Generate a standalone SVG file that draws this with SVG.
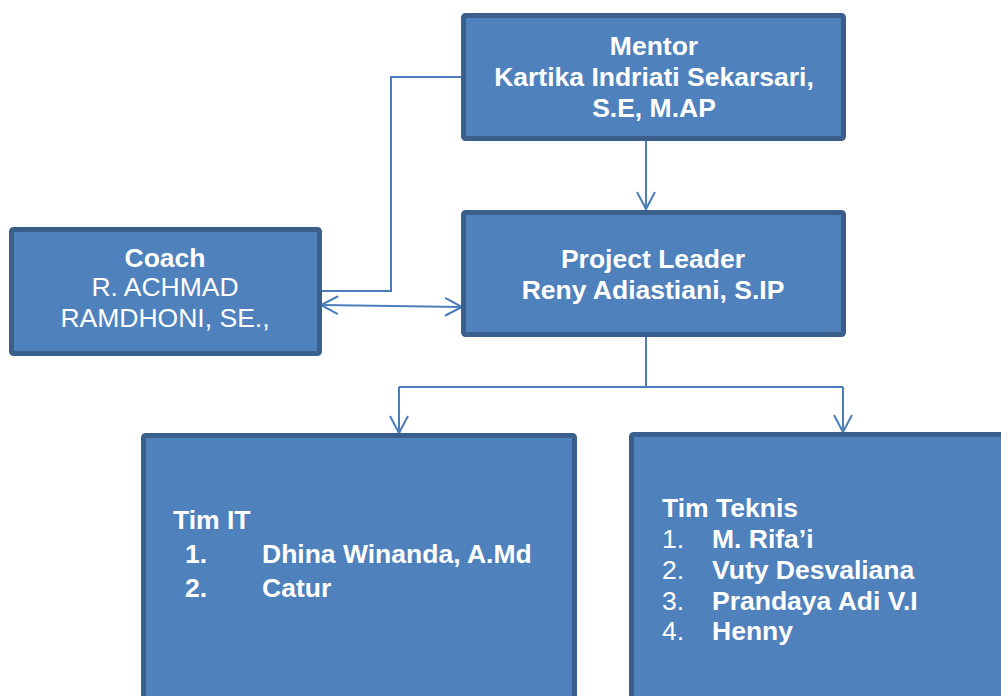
<svg xmlns="http://www.w3.org/2000/svg" width="1001" height="696" viewBox="0 0 1001 696">
<defs>
<style>
.box{fill:#4F81BD;stroke:#3A5F8D;stroke-width:5}
.t{font-family:"Liberation Sans",Arial,sans-serif;font-size:26.5px;fill:#FFFFFF}
.b{font-weight:bold}
.c{text-anchor:middle}
.conn{fill:none;stroke:#4A7EBB;stroke-width:2}
</style>
<marker id="arr" markerUnits="userSpaceOnUse" markerWidth="22" markerHeight="22" viewBox="-19 -11 22 22" refX="0" refY="0" orient="auto-start-reverse">
<path d="M-17,-9 L0,0 L-17,9" fill="none" stroke="#4A7EBB" stroke-width="2"/>
</marker>
</defs>
<rect width="1001" height="696" fill="#FFFFFF"/>
<g id="connectors">
<path class="conn" d="M646,141 V209" marker-end="url(#arr)"/>
<path class="conn" d="M461,77 H391 V291 H321"/>
<path class="conn" d="M321,305 L462,307" marker-start="url(#arr)" marker-end="url(#arr)"/>
<path class="conn" d="M646,337 V387"/>
<path class="conn" d="M399,387 H843"/>
<path class="conn" d="M399,387 V433" marker-end="url(#arr)"/>
<path class="conn" d="M843,387 V432" marker-end="url(#arr)"/>
</g>
<g id="mentor">
<rect class="box" x="463.5" y="15.5" width="380" height="123" rx="2"/>
<text class="t b c" x="654" y="55">Mentor</text>
<text class="t b c" x="654" y="86">Kartika Indriati Sekarsari,</text>
<text class="t b c" x="654" y="117">S.E, M.AP</text>
</g>
<g id="project-leader">
<rect class="box" x="463.5" y="212.5" width="380" height="122" rx="2"/>
<text class="t b c" x="653" y="268">Project Leader</text>
<text class="t b c" x="653" y="299">Reny Adiastiani, S.IP</text>
</g>
<g id="coach">
<rect class="box" x="11.5" y="229.5" width="308" height="124" rx="2"/>
<text class="t b c" x="165" y="267">Coach</text>
<text class="t c" x="165" y="296">R. ACHMAD</text>
<text class="t c" x="165" y="327">RAMDHONI, SE.,</text>
</g>
<g id="tim-it">
<rect class="box" x="143.5" y="435.5" width="431" height="300" rx="2"/>
<text class="t b" x="173" y="529">Tim IT</text>
<text class="t b" x="185" y="563">1.</text>
<text class="t b" x="262" y="563">Dhina Winanda, A.Md</text>
<text class="t b" x="185" y="597">2.</text>
<text class="t b" x="262" y="597">Catur</text>
</g>
<g id="tim-teknis">
<rect class="box" x="631.5" y="434.5" width="400" height="300" rx="2"/>
<text class="t b" x="662" y="517">Tim Teknis</text>
<text class="t" x="662" y="548">1.</text>
<text class="t b" x="712" y="548">M. Rifa’i</text>
<text class="t" x="662" y="579">2.</text>
<text class="t b" x="712" y="579">Vuty Desvaliana</text>
<text class="t" x="662" y="610">3.</text>
<text class="t b" x="712" y="610">Prandaya Adi V.I</text>
<text class="t" x="662" y="640">4.</text>
<text class="t b" x="712" y="640">Henny</text>
</g>
</svg>
